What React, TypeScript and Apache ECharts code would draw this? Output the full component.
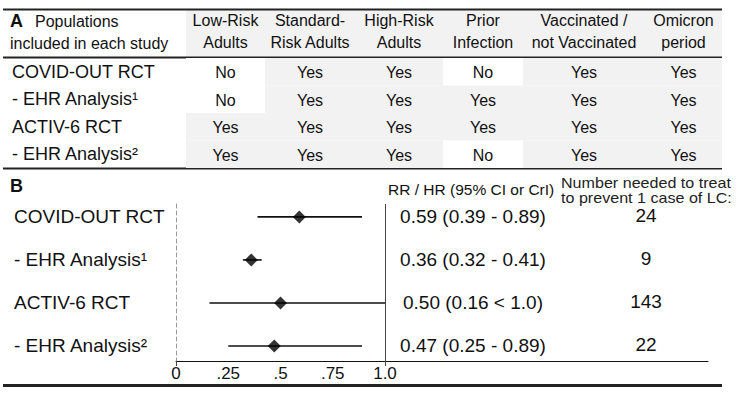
import React, { useEffect, useRef } from "react";
import * as echarts from "echarts";

// ---------- data ----------
const COLUMNS = [
  "Low-Risk\nAdults",
  "Standard-\nRisk Adults",
  "High-Risk\nAdults",
  "Prior\nInfection",
  "Vaccinated /\nnot Vaccinated",
  "Omicron\nperiod",
];
const STUDIES = ["COVID-OUT RCT", "- EHR Analysis¹", "ACTIV-6 RCT", "- EHR Analysis²"];
const COVID_OUT = ["No", "Yes", "Yes", "No", "Yes", "Yes"];
const EHR_1 = ["No", "Yes", "Yes", "Yes", "Yes", "Yes"];
const ACTIV_6 = ["Yes", "Yes", "Yes", "Yes", "Yes", "Yes"];
const EHR_2 = ["Yes", "Yes", "Yes", "No", "Yes", "Yes"];

const ESTIMATE = [0.59, 0.36, 0.5, 0.47];
const CI_LOW = [0.39, 0.32, 0.16, 0.25];
const CI_HIGH = [0.89, 0.41, 1.0, 0.89];
const EST_LABELS = ["0.59 (0.39 - 0.89)", "0.36 (0.32 - 0.41)", "0.50 (0.16 < 1.0)", "0.47 (0.25 - 0.89)"];
const NNT = ["24", "9", "143", "22"];
const X_TICKS = [0, 0.25, 0.5, 0.75, 1];
const X_TICK_LABELS = ["0", ".25", ".5", ".75", "1.0"];

// ---------- layout ----------
const COL_WIDTHS = [79, 90, 88, 80, 122, 77];
const FONT = "'Liberation Sans', Arial, Helvetica, sans-serif";
const INK = "#111";
const GRAY = "#f2f2f2";
const PLOT_LEFT = 176;
const PLOT_ONE = 385; // pixel of x = 1.0
const PLOT_RIGHT = 708;
const EST_OFFSET = 297;
const NNT_OFFSET = 470;

export default function App() {
  const ref = useRef<HTMLDivElement>(null);
  useEffect(() => {
    const chart = echarts.init(ref.current!, null, { renderer: "svg" });
    const edges: number[] = [0];
    COL_WIDTHS.forEach((w) => edges.push(edges[edges.length - 1] + w));
    const centers = COL_WIDTHS.map((w, i) => edges[i] + w / 2);
    const tableRows = [COVID_OUT, EHR_1, ACTIV_6, EHR_2];
    const cellData: number[][] = [];
    tableRows.forEach((row, r) => row.forEach((_v, c) => cellData.push([centers[c], r])));
    const cellVal = (i: number) => tableRows[Math.floor(i / 6)][i % 6];
    const cellCol = (i: number) => i % 6;
    const xMax = (PLOT_RIGHT - PLOT_LEFT) / (PLOT_ONE - PLOT_LEFT);

    const option: any = {
      animation: false,
      backgroundColor: "#fff",
      textStyle: { fontFamily: FONT },
      grid: [
        { left: 186, top: 58, width: edges[6], height: 110 },
        { left: PLOT_LEFT, top: 204, width: PLOT_RIGHT - PLOT_LEFT, height: 157 },
      ],
      xAxis: [
        {
          gridIndex: 0,
          type: "value",
          position: "top",
          min: 0,
          max: edges[6],
          axisLine: { show: false },
          axisTick: { show: false },
          splitLine: { show: false },
          axisLabel: {
            customValues: centers,
            formatter: (v: number) => {
              let best = 0;
              centers.forEach((c, i) => {
                if (Math.abs(c - v) < Math.abs(centers[best] - v)) best = i;
              });
              return COLUMNS[best];
            },
            fontFamily: FONT,
            fontSize: 16,
            lineHeight: 22,
            color: INK,
            margin: 5,
            align: "center",
          },
        },
        {
          gridIndex: 1,
          type: "value",
          min: 0,
          max: xMax,
          axisLine: { show: true, onZero: false, lineStyle: { color: INK, width: 1 } },
          axisTick: { show: true, customValues: [0, 1], length: 5, lineStyle: { color: "#444" } },
          splitLine: { show: false },
          axisLabel: {
            customValues: X_TICKS,
            formatter: (v: number) => X_TICK_LABELS[X_TICKS.indexOf(v)] ?? "",
            fontFamily: FONT,
            fontSize: 17,
            color: INK,
            margin: 4,
          },
        },
      ],
      yAxis: [
        {
          gridIndex: 0,
          type: "category",
          inverse: true,
          data: STUDIES,
          axisLine: { show: false },
          axisTick: { show: false },
          axisLabel: {
            align: "left",
            margin: 174,
            fontFamily: FONT,
            fontSize: 18,
            color: INK,
          },
        },
        {
          gridIndex: 1,
          type: "value",
          inverse: true,
          min: -0.3,
          max: 3.35,
          axisLine: { show: true, onZero: false, lineStyle: { color: "#999", type: [4, 3], width: 1 } },
          axisTick: { show: false },
          splitLine: { show: false },
          axisLabel: {
            customValues: [0, 1, 2, 3],
            formatter: (v: number) => STUDIES[Math.round(v)] ?? "",
            align: "left",
            margin: PLOT_LEFT - 14,
            fontFamily: FONT,
            fontSize: 19,
            color: INK,
          },
        },
      ],
      series: [
        {
          type: "custom",
          xAxisIndex: 0,
          yAxisIndex: 0,
          data: cellData,
          renderItem: (params: any, api: any) => {
            const i = params.dataIndex;
            const c = cellCol(i);
            const r = Math.floor(i / 6);
            const p0 = api.coord([edges[c], r]);
            const p1 = api.coord([edges[c + 1], r]);
            const h = api.size([0, 1])[1];
            const v = cellVal(i);
            return {
              type: "group",
              children: [
                {
                  type: "rect",
                  shape: { x: p0[0], y: p0[1] - h / 2, width: p1[0] - p0[0], height: h },
                  style: { fill: v === "Yes" ? GRAY : "#fff" },
                },
                {
                  type: "text",
                  style: {
                    x: (p0[0] + p1[0]) / 2,
                    y: p0[1] + 1,
                    text: v,
                    align: "center",
                    verticalAlign: "middle",
                    fontFamily: FONT,
                    fontSize: 16,
                    fill: INK,
                  },
                },
              ],
            };
          },
          z: 1,
        },
        {
          type: "custom",
          xAxisIndex: 1,
          yAxisIndex: 1,
          data: ESTIMATE.map((_e, i) => [CI_LOW[i], i, CI_HIGH[i]]),
          renderItem: (params: any, api: any) => {
            const i = params.dataIndex;
            const a = api.coord([CI_LOW[i], i]);
            const b = api.coord([CI_HIGH[i], i]);
            return {
              type: "line",
              shape: { x1: a[0], y1: a[1], x2: b[0], y2: b[1] },
              style: { stroke: INK, lineWidth: 1.6 },
            };
          },
          z: 3,
        },
        {
          type: "custom",
          xAxisIndex: 1,
          yAxisIndex: 1,
          data: ESTIMATE.map((_e, i) => [0, i]),
          renderItem: (params: any, api: any) => {
            const i = params.dataIndex;
            const y = api.coord([0, i])[1];
            const x0 = params.coordSys.x;
            return {
              type: "group",
              children: [
                {
                  type: "text",
                  style: {
                    x: x0 + EST_OFFSET,
                    y,
                    text: EST_LABELS[i],
                    align: "center",
                    verticalAlign: "middle",
                    fontFamily: FONT,
                    fontSize: 19,
                    fill: INK,
                  },
                },
                {
                  type: "text",
                  style: {
                    x: x0 + NNT_OFFSET,
                    y: y - 1,
                    text: NNT[i],
                    align: "center",
                    verticalAlign: "middle",
                    fontFamily: FONT,
                    fontSize: 19,
                    fill: INK,
                  },
                },
              ],
            };
          },
          z: 3,
        },
        {
          type: "scatter",
          xAxisIndex: 1,
          yAxisIndex: 1,
          data: ESTIMATE.map((e, i) => [e, i]),
          symbol: "diamond",
          symbolSize: [13, 13],
          itemStyle: { color: "#000" },
          z: 5,
          markLine: {
            silent: true,
            symbol: ["none", "none"],
            label: { show: false },
            lineStyle: { color: "#444", width: 1, type: "solid" },
            data: [{ xAxis: 1 }],
          },
        },
      ],
      graphic: [
        { type: "rect", shape: { x: 186, y: 10, width: edges[6], height: 47 }, style: { fill: GRAY }, z: -1 },
        { type: "line", shape: { x1: 3, y1: 9.5, x2: 722, y2: 9.5 }, style: { stroke: "#222", lineWidth: 2 } },
        { type: "line", shape: { x1: 3, y1: 57.5, x2: 722, y2: 57.5 }, style: { stroke: "#222", lineWidth: 2 } },
        { type: "line", shape: { x1: 3, y1: 168.5, x2: 722, y2: 168.5 }, style: { stroke: "#222", lineWidth: 2 } },
        { type: "line", shape: { x1: 3, y1: 385.5, x2: 722, y2: 385.5 }, style: { stroke: "#222", lineWidth: 3 } },
        {
          type: "text",
          x: 10,
          y: 21,
          style: { text: "A", fontFamily: FONT, fontSize: 18, fontWeight: "bold", fill: INK, verticalAlign: "middle" },
        },
        {
          type: "text",
          x: 35,
          y: 21,
          style: { text: "Populations", fontFamily: FONT, fontSize: 16, fill: INK, verticalAlign: "middle" },
        },
        {
          type: "text",
          x: 10,
          y: 43,
          style: { text: "included in each study", fontFamily: FONT, fontSize: 16, fill: INK, verticalAlign: "middle" },
        },
        {
          type: "text",
          x: 10,
          y: 186,
          style: { text: "B", fontFamily: FONT, fontSize: 18, fontWeight: "bold", fill: INK, verticalAlign: "middle" },
        },
        {
          type: "text",
          x: 388,
          y: 189,
          style: { text: "RR / HR (95% CI or CrI)", fontFamily: FONT, fontSize: 15.5, fill: INK, verticalAlign: "middle" },
        },
        {
          type: "text",
          x: 561,
          y: 190,
          scaleX: 1.15,
          style: {
            text: "Number needed to treat\nto prevent 1 case of LC:",
            fontFamily: FONT,
            fontSize: 14,
            lineHeight: 15,
            fill: "#222",
            verticalAlign: "middle",
          },
        },
      ],
    };
    chart.setOption(option);
    return () => chart.dispose();
  }, []);
  return <div ref={ref} style={{ position: "fixed", left: 0, top: 0, width: 743, height: 394 }} />;
}
